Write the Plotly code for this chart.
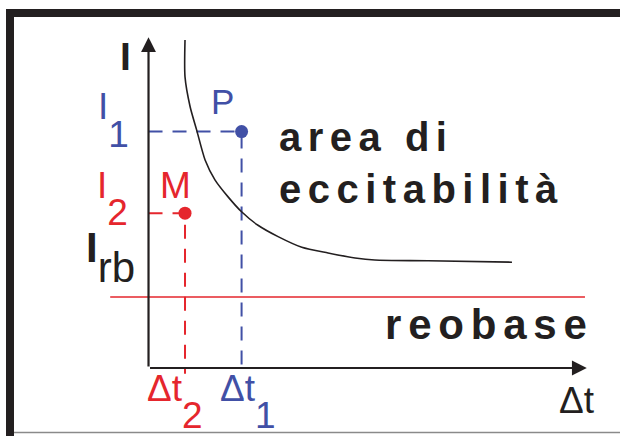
import plotly.graph_objects as go

# Strength–duration curve: stimulus duration Δt vs. stimulus intensity I
curve_t = [1.00, 1.00, 1.14, 1.32, 1.55, 1.82, 2.18, 2.55, 3.00, 3.55, 4.20, 4.92, 5.66, 6.20, 7.66, 9.96]
curve_I = [4.62, 4.10, 3.68, 3.35, 2.93, 2.65, 2.41, 2.20, 2.01, 1.85, 1.70, 1.62, 1.55, 1.52, 1.51, 1.49]

# Rheobase current and the extent of its line
I_rb = 1.00
rheobase_t = [-1.05, 11.96]

# Two stimuli: P (effective) and M (ineffective)
dt1, I1 = 2.55, 3.33
dt2, I2 = 1.00, 2.18

# Axis arrows
t_max = 12.01
I_max = 4.66

x_range = [-4.07, 12.92]
y_range = [-0.958, 5.183]

BLUE = "#4150a6"
RED = "#e5262d"
INK = "#231f20"
FONT = "Liberation Sans, Arial, sans-serif"

fig = go.Figure()

# dashed guides from the axes to the two stimuli
fig.add_trace(go.Scatter(x=[0, dt1, dt1], y=[I1, I1, -0.06], mode="lines",
                         line=dict(color=BLUE, width=2, dash="14px,10px"), hoverinfo="skip"))
fig.add_trace(go.Scatter(x=[0, dt2, dt2], y=[I2, I2, -0.08], mode="lines",
                         line=dict(color=RED, width=2, dash="14px,10px"), hoverinfo="skip"))

# rheobase line
fig.add_trace(go.Scatter(x=rheobase_t, y=[I_rb, I_rb], mode="lines",
                         line=dict(color=RED, width=1.6), hoverinfo="skip"))

# threshold curve
fig.add_trace(go.Scatter(x=curve_t, y=curve_I, mode="lines",
                         line=dict(color=INK, width=1.6, shape="spline", smoothing=0.7),
                         hoverinfo="skip"))

# stimuli points
fig.add_trace(go.Scatter(x=[dt1], y=[I1], mode="markers",
                         marker=dict(color=BLUE, size=13), hoverinfo="skip"))
fig.add_trace(go.Scatter(x=[dt2], y=[I2], mode="markers",
                         marker=dict(color=RED, size=13), hoverinfo="skip"))

# axes with arrowheads
for hx, hy in [(0, I_max), (t_max, 0)]:
    fig.add_annotation(x=hx, y=hy, ax=0, ay=0, xref="x", yref="y", axref="x", ayref="y",
                       text="", showarrow=True, arrowhead=2, arrowsize=1.35,
                       arrowwidth=2.2, arrowcolor=INK, standoff=0)


def label(text, x, y, dx, dy, color, size, bold=False):
    fig.add_annotation(x=x, y=y, xref="x", yref="y", xshift=dx, yshift=dy,
                       xanchor="left", yanchor="top", showarrow=False, align="left",
                       text=text,
                       font=dict(family=FONT, size=size, color=color,
                                 weight="bold" if bold else "normal"))


def low(s, shift):
    return f'<span style="baseline-shift:-{shift}px">{s}</span>'


label("<b>I</b>", 0, I_max, -31, 4, INK, 39)
label("I" + low("1", 28), 0, I1, -53, 48, BLUE, 37)
label("I" + low("2", 27), 0, I2, -54, 50, RED, 37)
label("<b>I</b>" + low("rb", 20), 0, I_rb, -65, 75, INK, 42)
label("P", dt1, I1, -33, 52, BLUE, 35)
label("M", dt2, I2, -27, 50, RED, 37)
label("Δt" + low("2", 27), dt2, 0, -40, 2, RED, 37)
label("Δt" + low("1", 27), dt1, 0, -24, 2, BLUE, 37)
label("Δt", t_max, 0, -30, -10, INK, 37)

spaced = '<span style="letter-spacing:6.5px">{}</span>'
fig.add_annotation(x=dt1, y=I1, xref="x", yref="y", xshift=35, yshift=19,
                   xanchor="left", yanchor="top", showarrow=False, align="left",
                   text=spaced.format("area di") + "<br>" + spaced.format("eccitabilità"),
                   font=dict(family=FONT, size=40, color=INK, weight="bold"))
fig.add_annotation(x=rheobase_t[1], y=I_rb, xref="x", yref="y", xshift=-202, yshift=-2,
                   xanchor="left", yanchor="top", showarrow=False, align="left",
                   text='<span style="letter-spacing:6.8px">reobase</span>',
                   font=dict(family=FONT, size=42, color=INK, weight="bold"))

# picture frame
fig.add_shape(type="rect", xref="paper", yref="paper", x0=6 / 620, x1=1.01,
              y0=1 - 17 / 436, y1=1 - 9 / 436, fillcolor=INK, line_width=0)
fig.add_shape(type="rect", xref="paper", yref="paper", x0=6 / 620, x1=14 / 620,
              y0=-0.01, y1=1 - 9 / 436, fillcolor=INK, line_width=0)
fig.add_shape(type="line", xref="paper", yref="paper", x0=14 / 620, x1=1.01,
              y0=3.5 / 436, y1=3.5 / 436, line=dict(color="#8a8a8a", width=1.5))

fig.update_layout(
    width=620, height=436, autosize=False,
    margin=dict(l=0, r=0, t=0, b=0),
    paper_bgcolor="white", plot_bgcolor="white",
    showlegend=False,
    xaxis=dict(range=x_range, visible=False, fixedrange=True),
    yaxis=dict(range=y_range, visible=False, fixedrange=True),
)

fig.write_html("out.html", config={"displayModeBar": False})
